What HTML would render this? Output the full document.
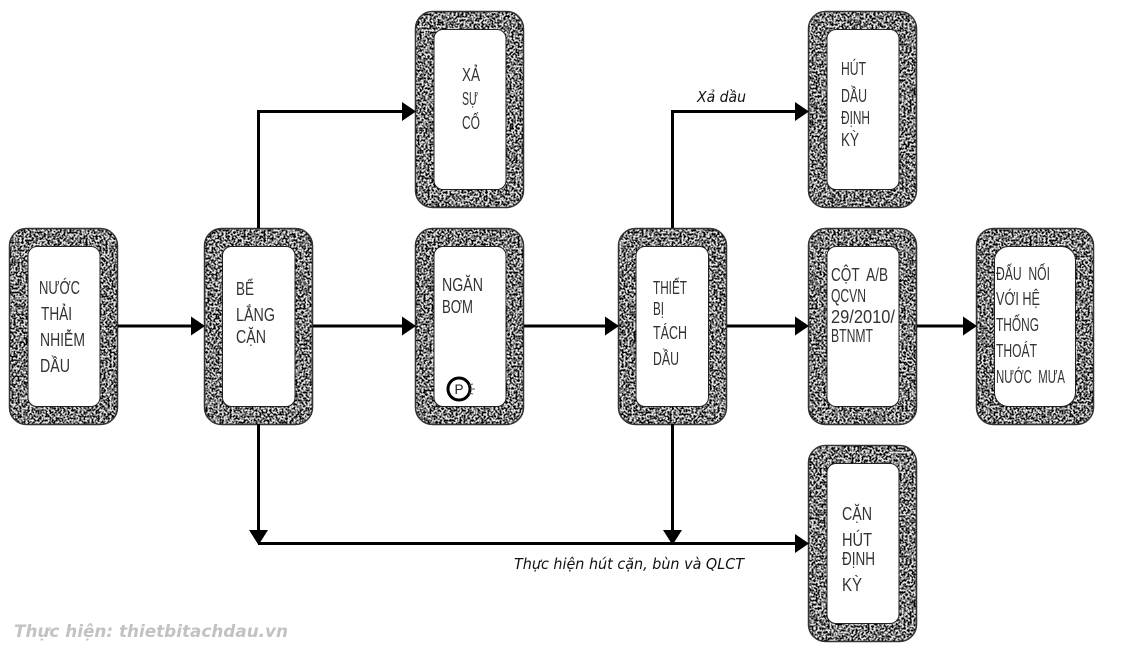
<!DOCTYPE html>
<html lang="vi">
<head>
<meta charset="utf-8">
<title>Sơ đồ xử lý nước thải nhiễm dầu</title>
<style>
html,body{margin:0;padding:0;background:#fff}
svg{display:block}
.t{font-family:"Liberation Sans","Noto Sans CJK JP",sans-serif;font-size:18.500px;fill:#333}
.i{font-family:"DejaVu Sans",sans-serif;font-style:italic;font-size:15.500px;fill:#111}
.w{font-family:"DejaVu Sans",sans-serif;font-style:italic;font-weight:bold;font-size:17px;fill:#c2c2c2}
.o{stroke:#333;stroke-width:1.5}
.l{stroke:#000;stroke-width:3;fill:none;stroke-linejoin:miter}
</style>
</head>
<body>
<svg xmlns="http://www.w3.org/2000/svg" width="1140" height="651" viewBox="0 0 1140 651">
<defs>
<filter id="n" x="0" y="0" width="100%" height="100%" color-interpolation-filters="sRGB">
<feTurbulence type="fractalNoise" baseFrequency="0.5" numOctaves="2" seed="7" result="t"/>
<feColorMatrix in="t" type="matrix" values="0 0 0 0 0  0 0 0 0 0  0 0 0 0 0  4 4 0 0 -3.55" result="d"/>
<feComposite in="d" in2="SourceAlpha" operator="in" result="c"/>
<feMerge><feMergeNode in="SourceGraphic"/><feMergeNode in="c"/></feMerge>
</filter>
</defs>
<rect width="1140" height="651" fill="#fff"/>

<g filter="url(#n)">
<rect x="9.5" y="228.5" width="108" height="196" rx="17" fill="#e8e8e8"/>
<rect x="204.5" y="228.5" width="108" height="196" rx="17" fill="#e8e8e8"/>
<rect x="415.5" y="228.5" width="108" height="196" rx="17" fill="#e8e8e8"/>
<rect x="618.5" y="228.5" width="108" height="196" rx="17" fill="#e8e8e8"/>
<rect x="808.5" y="228.5" width="108" height="196" rx="17" fill="#e8e8e8"/>
<rect x="976.5" y="228.5" width="117" height="196" rx="17" fill="#e8e8e8"/>
<rect x="415.5" y="11.5" width="108" height="196" rx="17" fill="#e8e8e8"/>
<rect x="808.5" y="11.5" width="108" height="196" rx="17" fill="#e8e8e8"/>
<rect x="808.5" y="445.5" width="108" height="196" rx="17" fill="#e8e8e8"/>
</g>

<g fill="none" class="o">
<rect x="9.5" y="228.5" width="108" height="196" rx="17"/>
<rect x="204.5" y="228.5" width="108" height="196" rx="17"/>
<rect x="415.5" y="228.5" width="108" height="196" rx="17"/>
<rect x="618.5" y="228.5" width="108" height="196" rx="17"/>
<rect x="808.5" y="228.5" width="108" height="196" rx="17"/>
<rect x="976.5" y="228.5" width="117" height="196" rx="17"/>
<rect x="415.5" y="11.5" width="108" height="196" rx="17"/>
<rect x="808.5" y="11.5" width="108" height="196" rx="17"/>
<rect x="808.5" y="445.5" width="108" height="196" rx="17"/>
</g>

<g fill="#fff" stroke="#222" stroke-width="1">
<rect x="28" y="246.5" width="72" height="160" rx="9"/>
<rect x="222.5" y="246.5" width="72.5" height="160" rx="9"/>
<rect x="434" y="246.5" width="72" height="160" rx="9"/>
<rect x="636" y="246.5" width="72.5" height="160" rx="9"/>
<rect x="827" y="246.5" width="72" height="160" rx="9"/>
<rect x="994.5" y="246.5" width="81" height="160" rx="14"/>
<rect x="434" y="29.5" width="72" height="160" rx="9"/>
<rect x="827" y="29.5" width="72" height="160" rx="9"/>
<rect x="827" y="463.5" width="72" height="160" rx="9"/>
</g>

<g class="l">
<path d="M118 326H194"/>
<path d="M313 326H405"/>
<path d="M524 326H608"/>
<path d="M727 326H798"/>
<path d="M917 326H966"/>
<path d="M258.500 228V111.500H405"/>
<path d="M672.500 228V111.500H798"/>
<path d="M258.500 424V532"/>
<path d="M672.500 424V532"/>
<path d="M258 543.500H798"/>
</g>
<g fill="#000">
<path d="M205 326l-14-9.500v19z"/>
<path d="M416 326l-14-9.500v19z"/>
<path d="M619 326l-14-9.500v19z"/>
<path d="M809 326l-14-9.500v19z"/>
<path d="M977 326l-14-9.500v19z"/>
<path d="M416 111.500l-14-9.500v19z"/>
<path d="M809 111.500l-14-9.500v19z"/>
<path d="M809 543.500l-14-9.500v19z"/>
<path d="M258.500 545l-9.500-15h19z"/>
<path d="M672.500 545l-9.500-15h19z"/>
</g>

<g class="t">
<text x="39" y="294" textLength="41" lengthAdjust="spacingAndGlyphs">NƯỚC</text>
<text x="41" y="320" textLength="31" lengthAdjust="spacingAndGlyphs">THẢI</text>
<text x="40" y="346" textLength="45" lengthAdjust="spacingAndGlyphs">NHIỄM</text>
<text x="40" y="372" textLength="30" lengthAdjust="spacingAndGlyphs">DẦU</text>

<text x="236" y="295" textLength="18" lengthAdjust="spacingAndGlyphs">BỂ</text>
<text x="236" y="321" textLength="39" lengthAdjust="spacingAndGlyphs">LẮNG</text>
<text x="236" y="343" textLength="30" lengthAdjust="spacingAndGlyphs">CẶN</text>

<text x="442" y="291" textLength="41" lengthAdjust="spacingAndGlyphs">NGĂN</text>
<text x="442" y="313" textLength="31" lengthAdjust="spacingAndGlyphs">BƠM</text>

<text x="653" y="294" textLength="34" lengthAdjust="spacingAndGlyphs">THIẾT</text>
<text x="653" y="315" textLength="11" lengthAdjust="spacingAndGlyphs">BỊ</text>
<text x="653" y="339" textLength="34" lengthAdjust="spacingAndGlyphs">TÁCH</text>
<text x="653" y="365" textLength="26" lengthAdjust="spacingAndGlyphs">DẦU</text>

<text x="831" y="281" textLength="57" lengthAdjust="spacingAndGlyphs" xml:space="preserve">CỘT  A/B</text>
<text x="831" y="302" textLength="35" lengthAdjust="spacingAndGlyphs">QCVN</text>
<text x="831" y="323" textLength="64" lengthAdjust="spacingAndGlyphs">29/2010/</text>
<text x="831" y="342" textLength="42" lengthAdjust="spacingAndGlyphs">BTNMT</text>

<text x="996" y="280" textLength="54" lengthAdjust="spacingAndGlyphs" xml:space="preserve">ĐẤU  NỐI</text>
<text x="996" y="305" textLength="44" lengthAdjust="spacingAndGlyphs">VỚI HỆ</text>
<text x="996" y="331" textLength="43" lengthAdjust="spacingAndGlyphs">THỐNG</text>
<text x="996" y="357" textLength="41" lengthAdjust="spacingAndGlyphs">THOÁT</text>
<text x="996" y="383" textLength="69" lengthAdjust="spacingAndGlyphs" xml:space="preserve">NƯỚC  MƯA</text>

<text x="462" y="81" textLength="18" lengthAdjust="spacingAndGlyphs">XẢ</text>
<text x="462" y="105" textLength="16" lengthAdjust="spacingAndGlyphs">SỰ</text>
<text x="462" y="129" textLength="18" lengthAdjust="spacingAndGlyphs">CỐ</text>

<text x="841" y="75" textLength="25" lengthAdjust="spacingAndGlyphs">HÚT</text>
<text x="841" y="102" textLength="26" lengthAdjust="spacingAndGlyphs">DẦU</text>
<text x="841" y="124" textLength="29" lengthAdjust="spacingAndGlyphs">ĐỊNH</text>
<text x="841" y="146" textLength="18" lengthAdjust="spacingAndGlyphs">KỲ</text>

<text x="842" y="520" textLength="30" lengthAdjust="spacingAndGlyphs">CẶN</text>
<text x="842" y="546" textLength="30" lengthAdjust="spacingAndGlyphs">HÚT</text>
<text x="842" y="565" textLength="33" lengthAdjust="spacingAndGlyphs">ĐỊNH</text>
<text x="842" y="591" textLength="20" lengthAdjust="spacingAndGlyphs">KỲ</text>
</g>

<circle cx="459" cy="389" r="11" fill="#fff" stroke="#000" stroke-width="3"/>
<path d="M470 389h5M469 385l4-1M469 393l4 1" stroke="#555" stroke-width="1" fill="none"/>
<text x="454.500" y="394" font-family="Liberation Sans, sans-serif" font-size="14" fill="#222" textLength="9" lengthAdjust="spacingAndGlyphs">P</text>

<text class="i" x="697" y="102" textLength="49" lengthAdjust="spacingAndGlyphs">Xả dầu</text>
<text class="i" x="514" y="569" textLength="230" lengthAdjust="spacingAndGlyphs">Thực hiện hút cặn, bùn và QLCT</text>
<text class="w" x="14" y="637" textLength="274" lengthAdjust="spacingAndGlyphs">Thực hiện: thietbitachdau.vn</text>
</svg>
</body>
</html>
